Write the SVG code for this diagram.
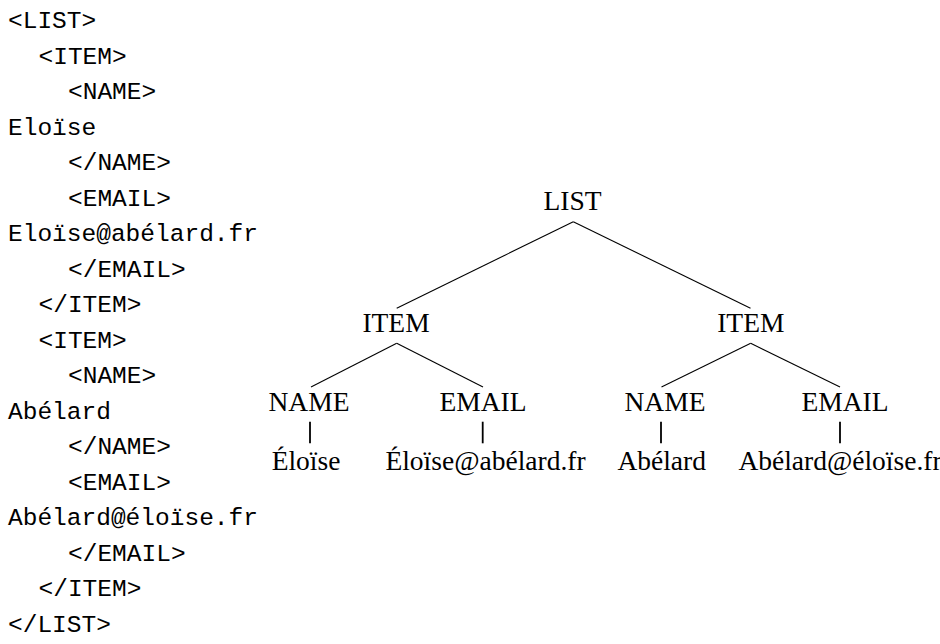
<svg xmlns="http://www.w3.org/2000/svg" width="940" height="644" viewBox="0 0 940 644">
  <style>
    .code { font-family: "Liberation Mono", "DejaVu Sans Mono", monospace; font-size: 24.5px; fill: #000; }
    .lbl { font-family: "Liberation Serif", "DejaVu Serif", serif; font-size: 27.5px; fill: #000; text-anchor: middle; }
    .edge { stroke: #000; stroke-width: 1.1; fill: none; }
    .stub { stroke: #000; stroke-width: 1.8; fill: none; }
  </style>
  <rect width="940" height="644" fill="#fff"/>

  <!-- XML source listing -->
  <g id="source">
    <text class="code" x="8" y="28">&lt;LIST&gt;</text>
    <text class="code" x="38.5" y="63.5">&lt;ITEM&gt;</text>
    <text class="code" x="68" y="99">&lt;NAME&gt;</text>
    <text class="code" x="8" y="134.5">Eloïse</text>
    <text class="code" x="68" y="170">&lt;/NAME&gt;</text>
    <text class="code" x="68" y="205.5">&lt;EMAIL&gt;</text>
    <text class="code" x="8" y="241">Eloïse@abélard.fr</text>
    <text class="code" x="68" y="276.5">&lt;/EMAIL&gt;</text>
    <text class="code" x="38.5" y="312">&lt;/ITEM&gt;</text>
    <text class="code" x="38.5" y="347.5">&lt;ITEM&gt;</text>
    <text class="code" x="68" y="383">&lt;NAME&gt;</text>
    <text class="code" x="8" y="418.5">Abélard</text>
    <text class="code" x="68" y="454">&lt;/NAME&gt;</text>
    <text class="code" x="68" y="489.5">&lt;EMAIL&gt;</text>
    <text class="code" x="8" y="525">Abélard@éloïse.fr</text>
    <text class="code" x="68" y="560.5">&lt;/EMAIL&gt;</text>
    <text class="code" x="38.5" y="596">&lt;/ITEM&gt;</text>
    <text class="code" x="8" y="631.5">&lt;/LIST&gt;</text>
  </g>

  <!-- tree edges -->
  <g id="connectors">
    <line class="edge" x1="573.3" y1="221.7" x2="396.7" y2="308.3"/>
    <line class="edge" x1="573.3" y1="221.7" x2="750.5" y2="308.3"/>
    <line class="edge" x1="396.7" y1="343.3" x2="311" y2="387"/>
    <line class="edge" x1="396.7" y1="343.3" x2="483" y2="387"/>
    <line class="edge" x1="750.7" y1="343.3" x2="661.5" y2="387"/>
    <line class="edge" x1="750.7" y1="343.3" x2="840" y2="387"/>
    <line class="stub" x1="310" y1="421.7" x2="310" y2="443.3"/>
    <line class="stub" x1="482.7" y1="421.7" x2="482.7" y2="443.3"/>
    <line class="stub" x1="661" y1="421.7" x2="661" y2="443.3"/>
    <line class="stub" x1="840" y1="421.7" x2="840" y2="443.3"/>
  </g>

  <!-- tree nodes -->
  <g id="list"><text class="lbl" x="572.5" y="210">LIST</text></g>
  <g id="item1"><text class="lbl" x="396" y="331.7">ITEM</text></g>
  <g id="item2"><text class="lbl" x="750.8" y="331.7">ITEM</text></g>
  <g id="name1"><text class="lbl" x="309" y="410.7">NAME</text></g>
  <g id="email1"><text class="lbl" x="483" y="410.7">EMAIL</text></g>
  <g id="name2"><text class="lbl" x="665" y="410.7">NAME</text></g>
  <g id="email2"><text class="lbl" x="845" y="410.7">EMAIL</text></g>
  <g id="name1-val"><text class="lbl" x="306" y="470">Éloïse</text></g>
  <g id="email1-val"><text class="lbl" x="485.5" y="470">Éloïse@abélard.fr</text></g>
  <g id="name2-val"><text class="lbl" x="661.7" y="470">Abélard</text></g>
  <g id="email2-val"><text class="lbl" x="840" y="470">Abélard@éloïse.fr</text></g>
</svg>
